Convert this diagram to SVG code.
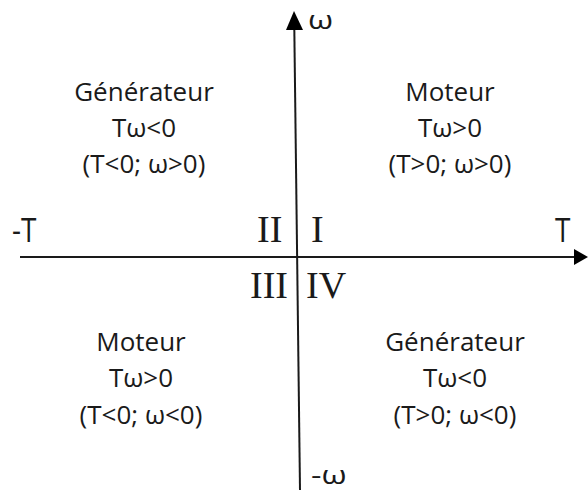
<svg xmlns="http://www.w3.org/2000/svg" width="588" height="493" viewBox="0 0 588 493">
<style>
.t{font-family:"Open Sans","Noto Sans","DejaVu Sans",sans-serif;font-size:26px;fill:#1a1a1a;text-anchor:middle}
.r{font-family:"Liberation Serif","Times New Roman",serif;font-size:38px;fill:#1a1a1a}
.ax{font-family:"Open Sans","Noto Sans","DejaVu Sans",sans-serif;font-size:28px;fill:#1a1a1a}
.w{font-family:"Open Sans","Noto Sans","DejaVu Sans",sans-serif;font-size:26px;fill:#1a1a1a}
.axis{stroke:#1a1a1a;stroke-width:2;fill:none}
</style>
<rect width="588" height="493" fill="#fff"/>
<g id="connectors">
<line class="axis" x1="20" y1="257" x2="576" y2="257"/>
<polygon points="588,257 574,249 574,265" fill="#000"/>
<line class="axis" x1="300" y1="490" x2="294.3" y2="28"/>
<polygon points="294,11 286,30 303,30" fill="#000"/>
</g>
<g id="axis-labels">
<text class="w" transform="translate(308,28.5) scale(1.25,1)">ω</text>
<text class="w" transform="translate(311,484) scale(1.25,1)">-ω</text>
<text class="ax" x="12" y="242" transform="translate(0,-48) scale(1,1.2)">-T</text>
<text class="ax" x="555" y="242" transform="translate(0,-48) scale(1,1.2)">T</text>
</g>
<g id="quadrant-numerals">
<text class="r" x="257" y="242">II</text>
<text class="r" x="311" y="242">I</text>
<text class="r" x="250" y="298">III</text>
<text class="r" x="306" y="298">IV</text>
</g>
<g id="q2">
<text class="t" x="144" y="101">Générateur</text>
<text class="t" x="144" y="137">Tω&lt;0</text>
<text class="t" x="144" y="173">(T&lt;0; ω&gt;0)</text>
</g>
<g id="q1">
<text class="t" x="450" y="101">Moteur</text>
<text class="t" x="450" y="137">Tω&gt;0</text>
<text class="t" x="450" y="173">(T&gt;0; ω&gt;0)</text>
</g>
<g id="q3">
<text class="t" x="141" y="351">Moteur</text>
<text class="t" x="141" y="387">Tω&gt;0</text>
<text class="t" x="141" y="424">(T&lt;0; ω&lt;0)</text>
</g>
<g id="q4">
<text class="t" x="455" y="351">Générateur</text>
<text class="t" x="455" y="387">Tω&lt;0</text>
<text class="t" x="455" y="424">(T&gt;0; ω&lt;0)</text>
</g>
</svg>
